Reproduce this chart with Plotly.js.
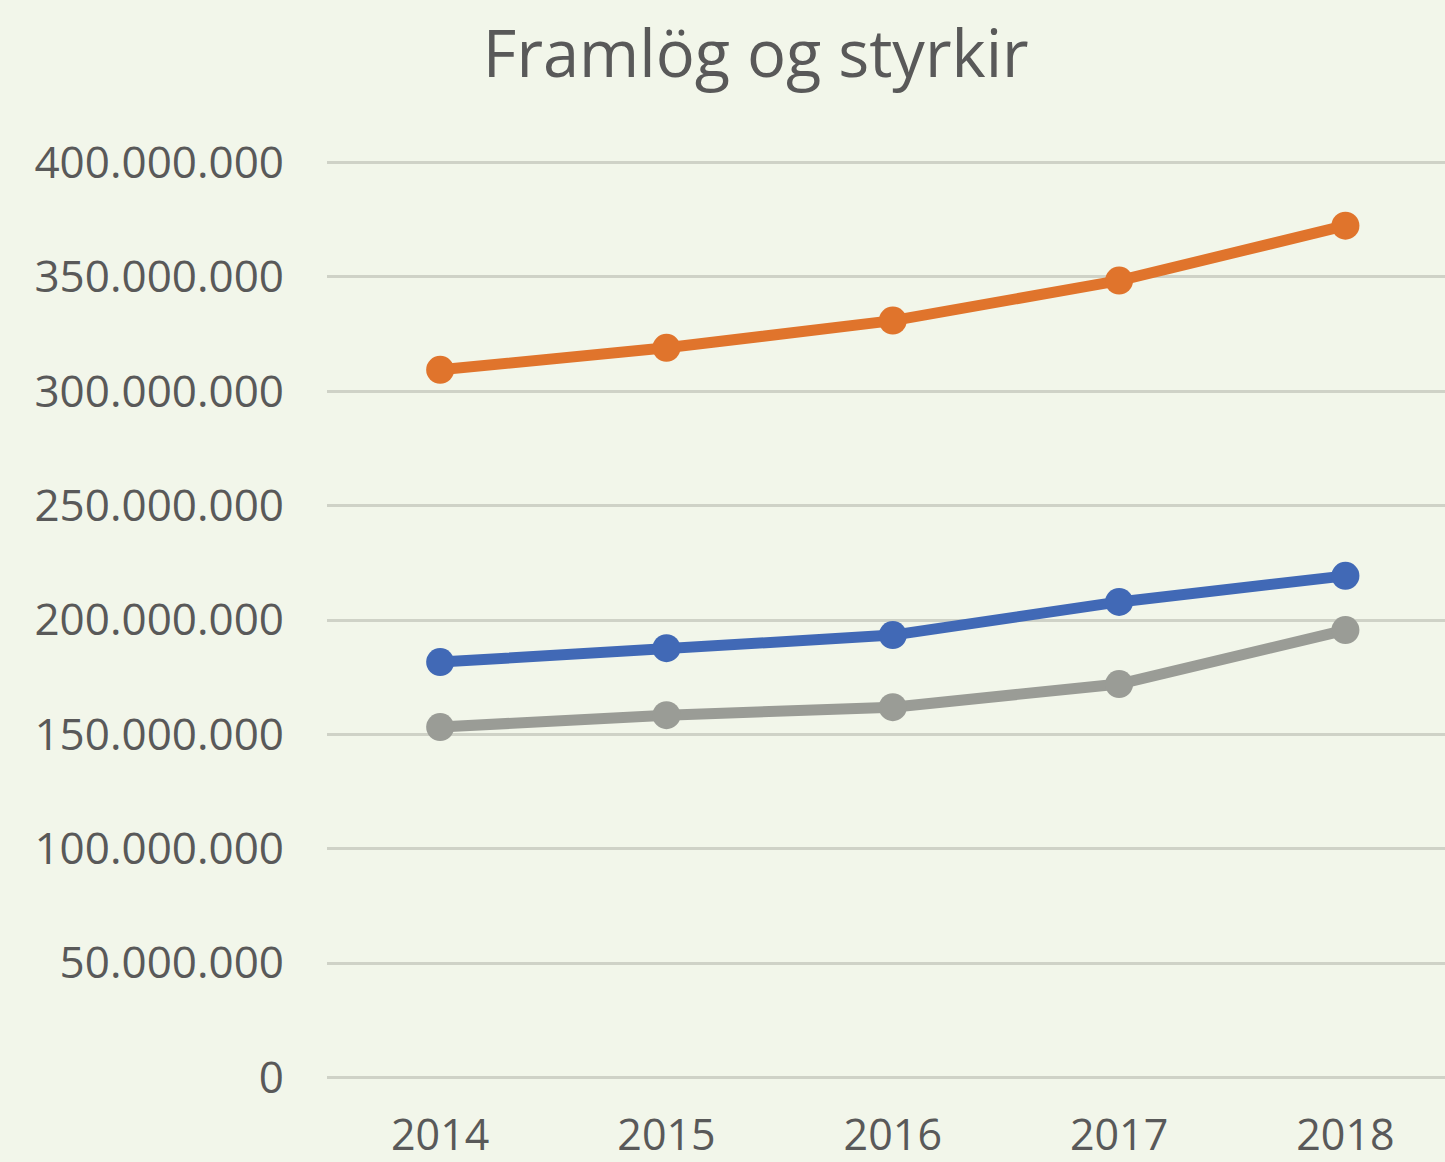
<!DOCTYPE html>
<html>
<head>
<meta charset="utf-8">
<script src="https://cdn.plot.ly/plotly-3.0.1.min.js"></script>
<style>html,body{margin:0;padding:0;background:#f2f6ea;}#chart{width:1445px;height:1162px;}</style>
</head>
<body>
<div id="chart"></div>
<script>
const years = ['2014', '2015', '2016', '2017', '2018'];
const orangeSeries = [309400000, 319000000, 330900000, 348400000, 372400000];
const blueSeries = [181600000, 187700000, 193400000, 207900000, 219300000];
const graySeries = [153200000, 158400000, 161900000, 172000000, 195600000];
const yTicks = [0, 50000000, 100000000, 150000000, 200000000, 250000000, 300000000, 350000000, 400000000];

function series(y, color) {
  return {
    x: years, y: y, type: 'scatter', mode: 'lines+markers',
    line: {color: color, width: 11},
    marker: {color: color, size: 28},
    cliponaxis: false, hoverinfo: 'skip', showlegend: false
  };
}

const data = [
  series(orangeSeries, '#e0742c'),
  series(blueSeries, '#4169b6'),
  series(graySeries, '#9a9c96')
];

const layout = {
  width: 1445, height: 1162,
  paper_bgcolor: '#f2f6ea', plot_bgcolor: '#f2f6ea',
  separators: ',.',
  margin: {l: 327, r: 0, t: 158, b: 80},
  title: {text: 'Framlög og styrkir', x: 0.523, xanchor: 'center', y: 0.953, yanchor: 'middle',
          font: {family: 'Open Sans', size: 65, color: '#595959'}},
  font: {family: 'Open Sans', color: '#595959'},
  xaxis: {type: 'category', range: [-0.5, 4.44], showgrid: false, zeroline: false, showline: false,
          ticks: '', tickfont: {size: 43, color: '#595959'}, ticklabelstandoff: 24},
  yaxis: {range: [-2000000, 402000000], tickvals: yTicks, tickformat: ',d', showgrid: true,
          gridcolor: '#cfd2c7', gridwidth: 3, zeroline: false, showline: false, ticks: '',
          tickfont: {size: 44, color: '#595959'}, ticklabelstandoff: 42}
};

Plotly.newPlot('chart', data, layout, {staticPlot: true, displayModeBar: false});
</script>
</body>
</html>
